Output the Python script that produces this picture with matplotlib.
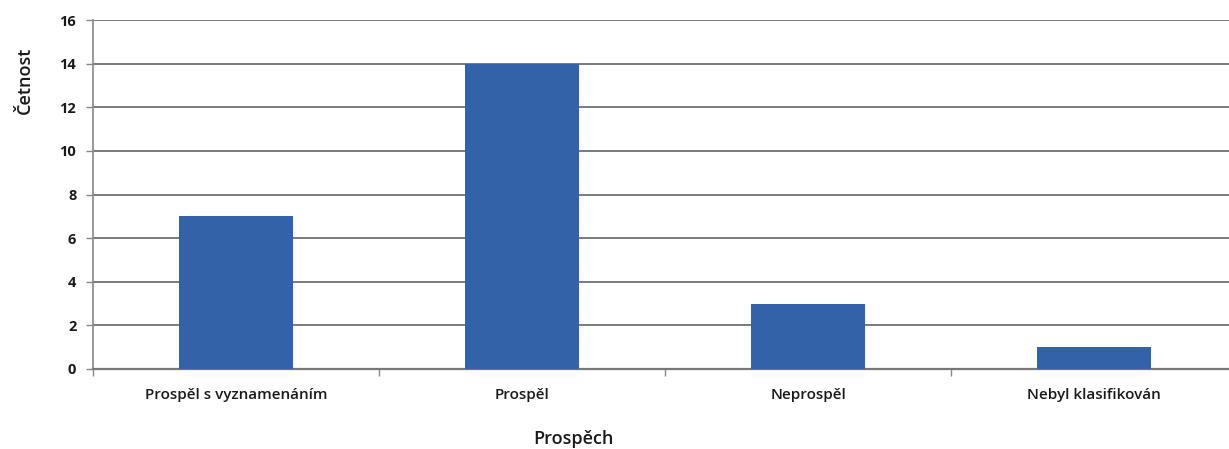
import matplotlib
matplotlib.use("Agg")
import matplotlib.pyplot as plt
import numpy as np

categories = ["Prospěl s vyznamenáním", "Prospěl", "Neprospěl", "Nebyl klasifikován"]
values = [7, 14, 3, 1]
yticks = [0, 2, 4, 6, 8, 10, 12, 14, 16]

plt.rcParams['font.family'] = ['Open Sans', 'DejaVu Sans']

fig = plt.figure(figsize=(12.29, 4.49), dpi=100)
ax = fig.add_axes([93/1229, 1-369/449, 1144/1229, (369-20)/449])

x = np.arange(len(categories))
ax.bar(x, values, width=0.4, color='#3462A8', zorder=3)
ax.set_xlim(-0.5, len(categories) - 0.5)
ax.set_ylim(0, 16)
ax.set_yticks(yticks)
ax.set_yticklabels([str(t) for t in yticks], fontsize=10.5, fontweight='bold', color='#1a1a1a')
ax.yaxis.grid(True, color='#7a7a7a', linewidth=1.4, zorder=0)

ax.set_xticks(x)
ax.set_xticklabels(categories, fontsize=11, fontweight='semibold', color='#1a1a1a')
ax.tick_params(axis='x', length=0, pad=14)
ax.set_xticks(np.arange(len(categories) + 1) - 0.5, minor=True)
ax.tick_params(axis='x', which='minor', length=5, color='#888888', width=1)
ax.tick_params(axis='y', length=5, color='#888888', width=1, pad=7)

for s in ['top', 'right']:
    ax.spines[s].set_visible(False)
ax.spines['left'].set_color('#888888')
ax.spines['bottom'].set_color('#777777')
ax.spines['left'].set_linewidth(1.2)
ax.spines['bottom'].set_linewidth(1.6)

fig.text(25/1229, 1-80/449, "Četnost", rotation=90, ha='center', va='center',
         fontsize=13, fontweight='semibold', color='#1a1a1a')
fig.text(573/1229, 1-439/449, "Prospěch", ha='center', va='center',
         fontsize=13, fontweight='semibold', color='#1a1a1a')

fig.savefig("out.png", dpi=100)
